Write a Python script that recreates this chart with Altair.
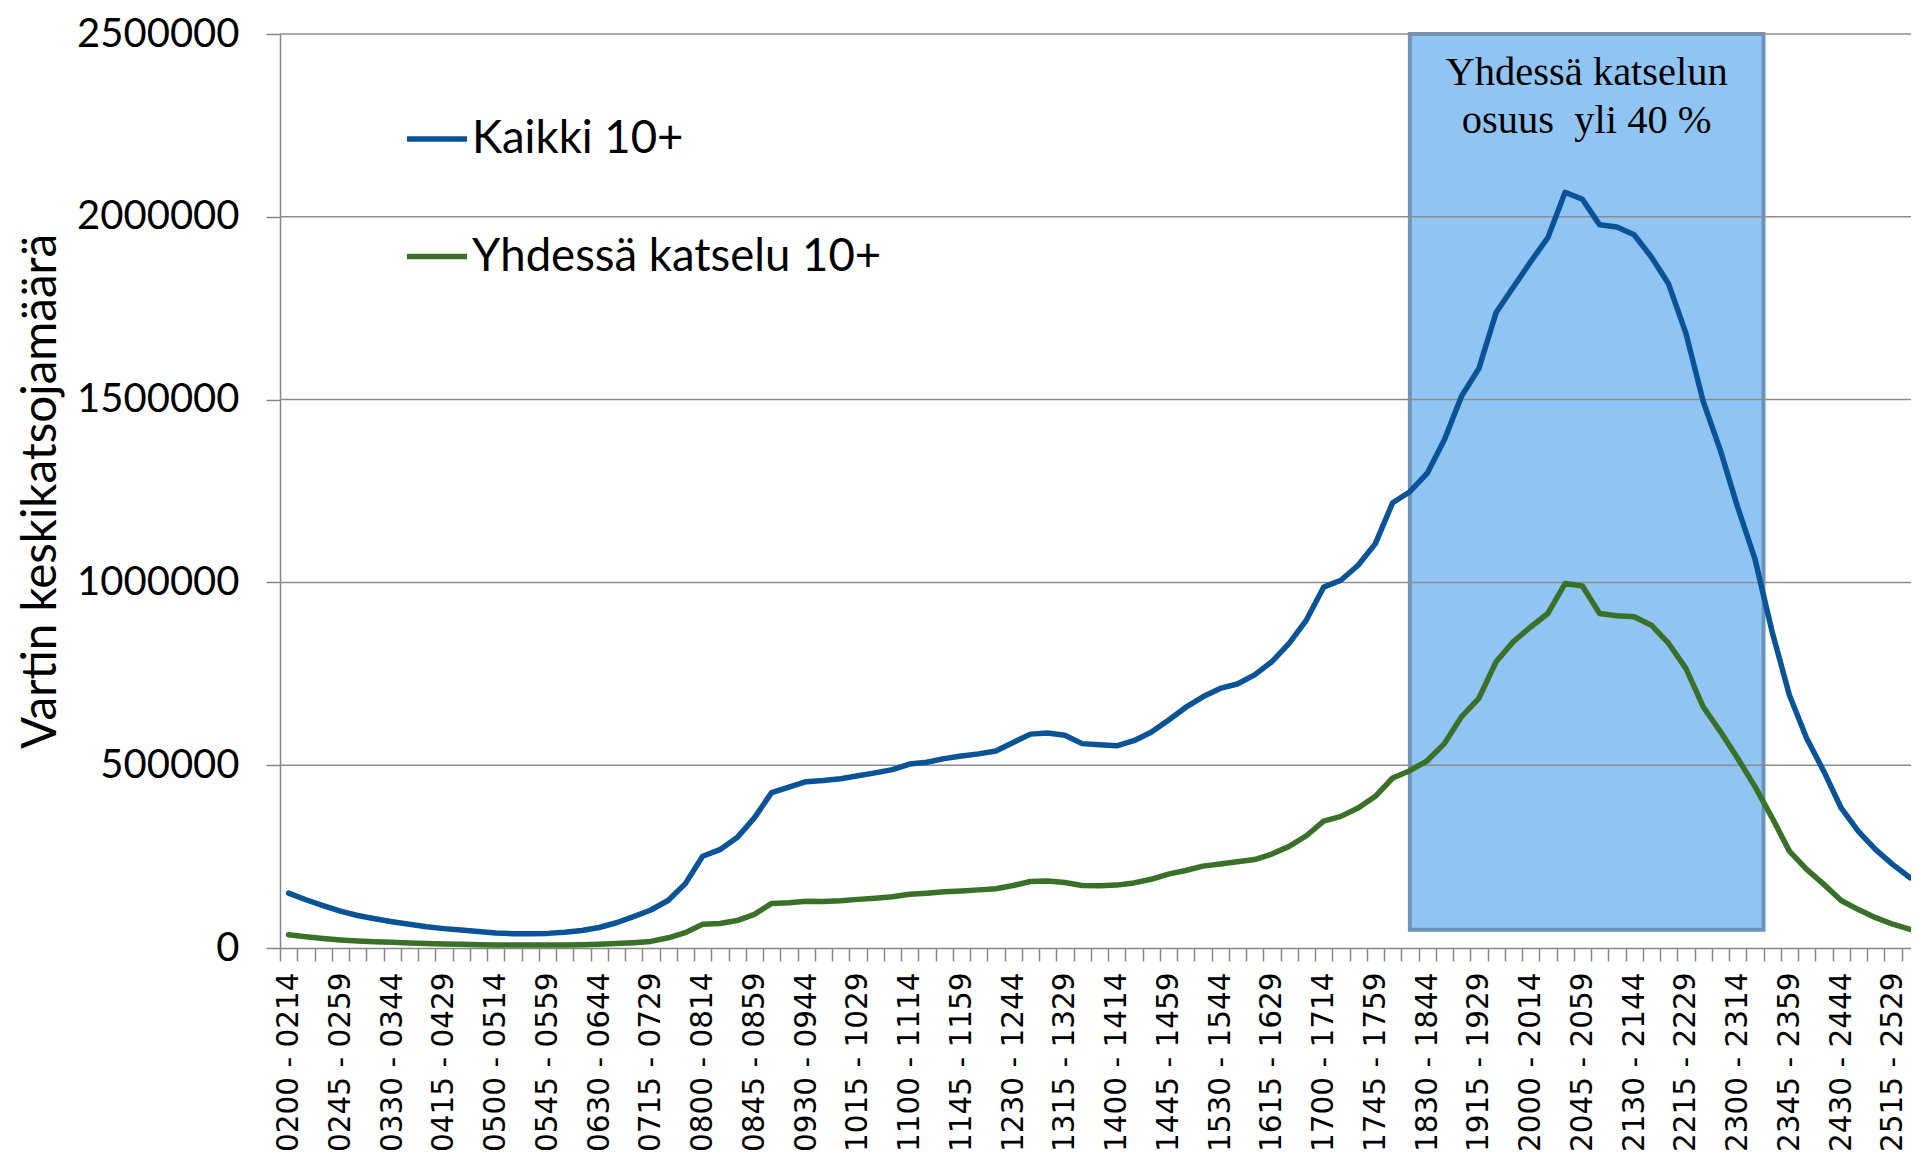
import altair as alt
import pandas as pd

# 15-minute slots from 02:00 to 25:44 (95 slots)
slots = [
    f"{(120 + 15 * i) // 60:02d}{(120 + 15 * i) % 60:02d} - "
    f"{(134 + 15 * i) // 60:02d}{(134 + 15 * i) % 60:02d}"
    for i in range(95)
]

kaikki = [
    150000, 132000, 116000, 101000, 89000, 80000, 72000, 65000, 58000, 53000,
    49000, 45000, 41000, 39000, 39000, 40000, 43000, 48000, 56000, 69000,
    86000, 104000, 130000, 176000, 251000, 269000, 302000, 356000, 425000, 440000,
    455000, 458000, 463000, 471000, 479000, 488000, 503000, 508000, 518000, 525000,
    531000, 539000, 562000, 585000, 588000, 582000, 559000, 556000, 553000, 567000,
    590000, 623000, 658000, 687000, 710000, 722000, 747000, 783000, 833000, 897000,
    987000, 1006000, 1047000, 1106000, 1218000, 1248000, 1298000, 1390000, 1510000, 1585000,
    1738000, 1808000, 1877000, 1943000, 2067000, 2048000, 1978000, 1972000, 1951000, 1890000,
    1816000, 1682000, 1496000, 1361000, 1206000, 1065000, 865000, 692000, 574000, 483000,
    383000, 319000, 269000, 228000, 192000,
]

yhdessa = [
    36000, 31000, 26000, 22000, 19000, 17000, 15500, 13500, 12000, 11000,
    10000, 9000, 8000, 8000, 8000, 8000, 8500, 9000, 10000, 12000,
    14500, 18000, 28000, 42000, 65000, 67000, 75000, 92000, 122000, 124000,
    128000, 127000, 129000, 133000, 136000, 140000, 147000, 150000, 154000, 156000,
    159000, 162000, 171000, 182000, 183000, 179000, 171000, 170000, 172000, 178000,
    188000, 202000, 212000, 224000, 230000, 236000, 242000, 257000, 278000, 307000,
    347000, 360000, 383000, 415000, 465000, 485000, 512000, 559000, 633000, 683000,
    783000, 838000, 878000, 915000, 997000, 990000, 915000, 909000, 906000, 883000,
    833000, 765000, 660000, 592000, 519000, 442000, 356000, 265000, 215000, 174000,
    130000, 105000, 83000, 65000, 51000,
]

series_names = ["Kaikki 10+", "Yhdessä katselu 10+"]
series_colors = ["#0A5396", "#3A7128"]
y_ticks = [0, 500000, 1000000, 1500000, 2000000, 2500000]

# highlighted period (slot index units / audience units)
box_x0 = [65]
box_x1 = [85.5]
box_y0 = [50000]
box_y1 = [2500000]
box_text = [["Yhdessä katselun", "osuus\u00a0 yli 40 %"]]
box_text_x = [75.25]
box_text_y = [2360000]

# ---------------------------------------------------------------
n = len(slots)
df = pd.DataFrame({
    "idx": list(range(n)) * 2,
    "slot": slots * 2,
    "series": [series_names[0]] * n + [series_names[1]] * n,
    "value": kaikki + yhdessa,
})

gray = "#868686"
plot_w = 1631
plot_h = 914
band = 17.25                      # px per 15-min slot, as in the reference
x_max = -0.5 + plot_w / band      # the reference is cropped at its right edge

xscale = alt.Scale(domain=[-0.5, x_max], nice=False, zero=False)
yscale = alt.Scale(domain=[y_ticks[0], y_ticks[-1]], nice=False, zero=True)

js_labels = "[" + ",".join(f"'{s}'" for s in slots) + "]"
label_expr = f"(datum.value + 0.5) % 3 == 0 ? {js_labels}[datum.value + 0.5] : ''"

x_axis = alt.Axis(
    values=[i - 0.5 for i in range(n)],
    labelExpr=label_expr,
    labelAngle=-90,
    labelFont="DejaVu Sans",
    labelFontSize=29.5,
    labelColor="black",
    labelPadding=11,
    labelOffset=band / 2,
    labelFlush=False,
    labelOverlap=False,
    labelLimit=0,
    tickSize=13,
    tickColor=gray,
    tickWidth=1.5,
    domainColor=gray,
    domainWidth=1.5,
    grid=False,
    title=None,
)

y_axis = alt.Axis(
    values=y_ticks,
    format="d",
    labelFont="Lato",
    labelFontSize=40,
    labelColor="black",
    labelPadding=27,
    labelFlush=False,
    tickSize=14,
    tickColor=gray,
    tickWidth=1.5,
    domainColor=gray,
    domainWidth=1.5,
    grid=False,
    title="Vartin keskikatsojamäärä",
    titleFont="Lato",
    titleFontSize=47.5,
    titleFontWeight="normal",
    titleColor="black",
    titleAngle=270,
    titleAlign="center",
    titleBaseline="middle",
    titleX=-239,
    titleY=457,
)

box_df = pd.DataFrame({"x0": box_x0, "x1": box_x1, "y0": box_y0, "y1": box_y1})
rect = alt.Chart(box_df).mark_rect(
    fill="#90C4F2", stroke="#6B93BB", strokeWidth=4
).encode(
    x=alt.X("x0:Q", scale=xscale, axis=x_axis),
    x2="x1:Q",
    y=alt.Y("y0:Q", scale=yscale, axis=y_axis),
    y2="y1:Q",
)

grid_df = pd.DataFrame({"grid": y_ticks[1:]})
rules = alt.Chart(grid_df).mark_rule(color="#8C8C8C", strokeWidth=1.5).encode(
    y=alt.Y("grid:Q", scale=yscale, axis=y_axis)
)

text_df = pd.DataFrame({"tx": box_text_x, "ty": box_text_y, "label": box_text})
text = alt.Chart(text_df).mark_text(
    font="Liberation Serif", fontSize=40.5, lineHeight=48,
    align="center", baseline="alphabetic", color="black",
).encode(
    x=alt.X("tx:Q", scale=xscale, axis=x_axis),
    y=alt.Y("ty:Q", scale=yscale, axis=y_axis),
    text="label",
)

lines = alt.Chart(df).mark_line(
    strokeWidth=5.5, strokeJoin="round", strokeCap="round", clip=True
).encode(
    x=alt.X("idx:Q", scale=xscale, axis=x_axis),
    y=alt.Y("value:Q", scale=yscale, axis=y_axis),
    color=alt.Color(
        "series:N",
        scale=alt.Scale(domain=series_names, range=series_colors),
        legend=alt.Legend(
            orient="none",
            legendX=124,
            legendY=72,
            title=None,
            direction="vertical",
            symbolType="stroke",
            symbolSize=3600,
            symbolStrokeWidth=5.5,
            labelFont="Lato",
            labelFontSize=45.5,
            labelColor="black",
            labelOffset=2,
            labelLimit=0,
            rowPadding=60.5,
        ),
    ),
    order="idx:Q",
)

chart = alt.layer(rect, rules, text, lines).properties(
    width=plot_w,
    height=plot_h,
    padding={"left": 272, "top": 26, "right": 0, "bottom": 205},
    autosize=alt.AutoSizeParams(type="none"),
    background="white",
).configure_view(stroke=None)

chart.save("out.html", embed_options={"renderer": "svg", "actions": False})
